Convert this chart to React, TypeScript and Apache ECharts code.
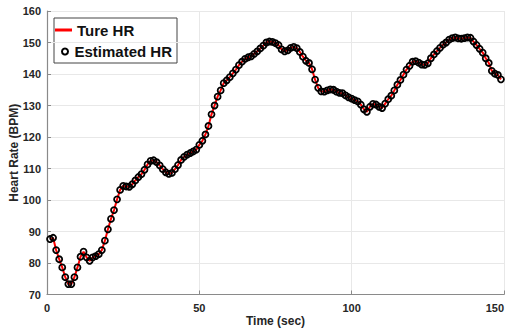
import React, { useEffect, useRef } from "react";
import * as echarts from "echarts";

const timeSec = [
  1, 2, 3, 4, 5, 6, 7, 8, 9, 10, 11, 12, 13, 14, 15, 16, 17, 18, 19, 20,
  21, 22, 23, 24, 25, 26, 27, 28, 29, 30, 31, 32, 33, 34, 35, 36, 37, 38, 39, 40,
  41, 42, 43, 44, 45, 46, 47, 48, 49, 50, 51, 52, 53, 54, 55, 56, 57, 58, 59, 60,
  61, 62, 63, 64, 65, 66, 67, 68, 69, 70, 71, 72, 73, 74, 75, 76, 77, 78, 79, 80,
  81, 82, 83, 84, 85, 86, 87, 88, 89, 90, 91, 92, 93, 94, 95, 96, 97, 98, 99, 100,
  101, 102, 103, 104, 105, 106, 107, 108, 109, 110, 111, 112, 113, 114, 115, 116, 117, 118, 119, 120,
  121, 122, 123, 124, 125, 126, 127, 128, 129, 130, 131, 132, 133, 134, 135, 136, 137, 138, 139, 140,
  141, 142, 143, 144, 145, 146, 147, 148, 149,
];

const estimatedHR = [
  87.6, 88.0, 84.1, 81.2, 78.6, 75.5, 73.3, 73.3, 75.5, 78.6,
  82.0, 83.6, 81.8, 80.7, 81.8, 82.2, 82.8, 84.1, 87.1, 90.7,
  94.0, 96.8, 100.2, 103.2, 104.5, 104.3, 104.2, 105.0, 106.2, 107.3,
  108.2, 109.6, 111.3, 112.4, 112.6, 112.0, 111.0, 109.8, 108.8, 108.3,
  108.6, 109.8, 111.1, 112.7, 113.7, 114.4, 114.9, 115.4, 116.0, 117.5,
  118.8, 120.8, 123.5, 127.2, 130.0, 132.8, 134.8, 137.1, 138.0, 139.0,
  140.2, 141.4, 142.8, 143.9, 144.8, 145.3, 145.6, 146.4, 147.2, 148.1,
  149.0, 150.0, 150.3, 150.2, 149.8, 149.2, 147.8, 147.2, 147.5, 148.3,
  148.6, 148.2, 147.0, 145.5, 144.2, 143.5, 141.5, 138.2, 135.6, 134.5,
  134.4, 134.8, 135.1, 135.0, 134.4, 134.0, 133.9, 133.2, 132.6, 132.2,
  131.7, 131.3, 130.3, 128.8, 128.0, 129.6, 130.5, 130.3, 129.6, 129.2,
  130.6, 132.0, 133.1, 134.8, 136.6, 138.1, 139.8, 141.4, 142.6, 143.9,
  144.1, 143.6, 143.0, 142.9, 143.4, 145.0, 146.2, 147.3, 148.3, 149.3,
  150.0, 150.9, 151.4, 151.6, 151.3, 151.2, 151.4, 151.6, 151.5, 150.3,
  149.2, 148.0, 146.8, 145.0, 143.5, 141.0, 140.1, 139.7, 138.3,
];

const trueHR = [
  87.6, 88.0, 84.1, 81.2, 78.6, 75.5, 73.3, 73.3, 75.5, 78.6,
  82.0, 83.6, 81.8, 80.7, 81.8, 82.2, 82.8, 84.1, 87.1, 90.7,
  94.0, 96.8, 100.2, 103.2, 104.5, 104.3, 104.2, 105.0, 106.2, 107.3,
  108.2, 109.6, 111.3, 112.4, 112.6, 112.0, 111.0, 109.8, 108.8, 108.3,
  108.6, 109.8, 111.1, 112.7, 113.7, 114.4, 114.9, 115.4, 116.0, 117.5,
  118.8, 120.8, 123.5, 127.2, 130.0, 132.8, 134.8, 137.1, 138.0, 139.0,
  140.2, 141.4, 142.8, 143.9, 144.8, 145.3, 145.6, 146.4, 147.2, 148.1,
  149.0, 150.0, 150.3, 150.2, 149.8, 149.2, 147.8, 147.2, 147.5, 148.3,
  148.6, 148.2, 147.0, 145.5, 144.2, 143.5, 141.5, 138.2, 135.6, 134.5,
  134.4, 134.8, 135.1, 135.0, 134.4, 134.0, 133.9, 133.2, 132.6, 132.2,
  131.7, 131.3, 130.3, 128.8, 128.0, 129.6, 130.5, 130.3, 129.6, 129.2,
  130.6, 132.0, 133.1, 134.8, 136.6, 138.1, 139.8, 141.4, 142.6, 143.9,
  144.1, 143.6, 143.0, 142.9, 143.4, 145.0, 146.2, 147.3, 148.3, 149.3,
  150.0, 150.9, 151.4, 151.6, 151.3, 151.2, 151.4, 151.6, 151.5, 150.3,
  149.2, 148.0, 146.8, 145.0, 143.5, 141.0, 140.1, 139.7, 138.3,
];

const seriesNames = ["Ture HR", "Estimated HR"];
const xAxisName = "Time (sec)";
const yAxisName = "Heart Rate (BPM)";

const FONT = 'Arial, "Liberation Sans", Helvetica, sans-serif';
const TEXT = "#262626";

export default function App() {
  const ref = useRef<HTMLDivElement>(null);

  useEffect(() => {
    if (!ref.current) return;
    const chart = echarts.init(ref.current, undefined, { renderer: "svg" });
    const truePairs = timeSec.map((t, i) => [t, trueHR[i]]);
    const estPairs = timeSec.map((t, i) => [t, estimatedHR[i]]);

    chart.setOption({
      animation: false,
      backgroundColor: "#ffffff",
      grid: {
        left: 47,
        right: 7,
        top: 11,
        bottom: 38.5,
        containLabel: false,
        outerBoundsMode: "none",
      },
      xAxis: {
        type: "value",
        min: 0,
        max: 150,
        interval: 50,
        name: xAxisName,
        nameLocation: "middle",
        nameGap: 20,
        nameMoveOverlap: false,
        nameTextStyle: { fontFamily: FONT, fontWeight: "bold", fontSize: 12, color: TEXT },
        axisLine: { show: true, onZero: false, lineStyle: { color: "#8a8a8a", width: 1.2 } },
        axisTick: { show: true, inside: true, length: 4, lineStyle: { color: "#8a8a8a" } },
        axisLabel: {
          fontFamily: FONT,
          fontWeight: "bold",
          fontSize: 11,
          color: TEXT,
          margin: 8,
          hideOverlap: false,
          alignMaxLabel: "right",
        },
        splitLine: { show: true, lineStyle: { color: "#e8e8e8", width: 1 } },
      },
      yAxis: {
        type: "value",
        min: 70,
        max: 160,
        interval: 10,
        name: yAxisName,
        nameLocation: "middle",
        nameGap: 27,
        nameMoveOverlap: false,
        nameTextStyle: { fontFamily: FONT, fontWeight: "bold", fontSize: 12, color: TEXT },
        axisLine: { show: true, lineStyle: { color: "#8a8a8a", width: 1.2 } },
        axisTick: { show: true, inside: true, length: 4, lineStyle: { color: "#8a8a8a" } },
        axisLabel: { fontFamily: FONT, fontWeight: "bold", fontSize: 11, color: TEXT, margin: 6 },
        splitLine: { show: true, lineStyle: { color: "#e8e8e8", width: 1 } },
      },
      legend: [
        {
          data: [seriesNames[0]],
          left: 55,
          top: 22,
          padding: 0,
          icon: "rect",
          itemWidth: 17,
          itemHeight: 3,
          itemStyle: { color: "#ff0000" },
          textStyle: { fontFamily: FONT, fontWeight: "bold", fontSize: 15, color: "#111", lineHeight: 16 },
        },
        {
          data: [seriesNames[1]],
          left: 61,
          top: 43.5,
          padding: 0,
          icon: "circle",
          itemWidth: 9,
          itemHeight: 6,
          itemStyle: { color: "#ffffff", borderColor: "#000000", borderWidth: 2 },
          textStyle: { fontFamily: FONT, fontWeight: "bold", fontSize: 15, color: "#111", lineHeight: 16 },
        },
      ],
      graphic: [
        {
          type: "rect",
          left: 53.5,
          top: 17.5,
          z: 0,
          shape: { width: 123, height: 45 },
          style: { fill: "#ffffff", stroke: "#444444", lineWidth: 1 },
        },
      ],
      series: [
        {
          name: seriesNames[0],
          type: "line",
          data: truePairs,
          showSymbol: false,
          lineStyle: { color: "#ff0000", width: 2 },
          itemStyle: { color: "#ff0000" },
          z: 2,
        },
        {
          name: seriesNames[1],
          type: "scatter",
          data: estPairs,
          symbol: "circle",
          symbolSize: 6,
          itemStyle: { color: "rgba(0,0,0,0)", borderColor: "#000000", borderWidth: 1.8, opacity: 1 },
          z: 3,
        },
      ],
    });
    return () => chart.dispose();
  }, []);

  return (
    <div
      ref={ref}
      style={{ position: "fixed", left: 0, top: 0, width: 511, height: 333, background: "#fff" }}
    />
  );
}
